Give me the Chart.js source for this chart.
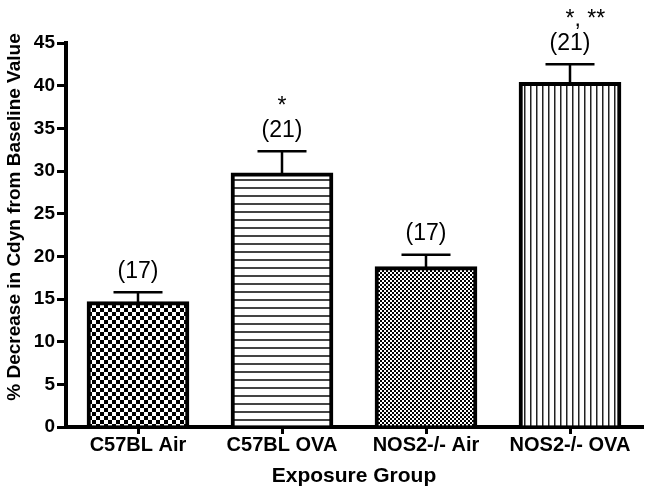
<!DOCTYPE html>
<html>
<head>
<meta charset="utf-8">
<script src="https://cdn.jsdelivr.net/npm/chart.js@4/dist/chart.umd.min.js"></script>
<style>
html,body{margin:0;padding:0;background:#fff;}
#wrap{width:649px;height:493px;}
</style>
</head>
<body>
<div id="wrap"><canvas id="c" width="649" height="493"></canvas></div>
<script>
const categories = ['C57BL Air', 'C57BL OVA', 'NOS2-/- Air', 'NOS2-/- OVA'];
const means = [14.7, 29.8, 18.8, 40.4];
const sem = [1.1, 2.5, 1.4, 2.1];
const nLabels = ['(17)', '(21)', '(17)', '(21)'];
const sigLabels = ['', '*', '', '*, **'];
const yMin = 0, yMax = 45, yStep = 5;
const xTitle = 'Exposure Group';
const yTitle = '% Decrease in Cdyn from Baseline Value';

const FONT = "'Liberation Sans', Arial, sans-serif";

function makePattern(w, h, draw) {
  const c = document.createElement('canvas');
  c.width = w; c.height = h;
  const g = c.getContext('2d');
  g.fillStyle = '#fff';
  g.fillRect(0, 0, w, h);
  draw(g);
  return document.getElementById('c').getContext('2d').createPattern(c, 'repeat');
}
const patCoarse = makePattern(8, 8, g => {
  g.fillStyle = '#000';
  g.fillRect(0, 0, 4, 4);
  g.fillRect(4, 4, 4, 4);
});
const patHoriz = makePattern(8, 8, g => {
  g.fillStyle = '#444';
  g.fillRect(0, 3, 8, 2);
});
const patFine = makePattern(4, 4, g => {
  g.fillStyle = '#000';
  g.fillRect(0, 0, 2, 2);
  g.fillRect(2, 2, 2, 2);
});
const patVert = makePattern(6, 6, g => {
  g.fillStyle = '#222';
  g.fillRect(2, 0, 1.5, 6);
});

const annot = {
  id: 'annot',
  afterDatasetsDraw(chart) {
    const ctx = chart.ctx;
    const meta = chart.getDatasetMeta(0);
    const ys = chart.scales.y;
    ctx.save();
    ctx.strokeStyle = '#000';
    ctx.lineWidth = 2.5;
    meta.data.forEach((bar, i) => {
      const x = bar.x;
      const top = ys.getPixelForValue(means[i]);
      const cap = ys.getPixelForValue(means[i] + sem[i]);
      ctx.beginPath();
      ctx.moveTo(x, top + 2);
      ctx.lineTo(x, cap);
      ctx.moveTo(x - 24.5, cap);
      ctx.lineTo(x + 24.5, cap);
      ctx.stroke();
      ctx.fillStyle = '#000';
      ctx.font = '23px ' + FONT;
      ctx.textAlign = 'center';
      ctx.textBaseline = 'middle';
      ctx.fillText(nLabels[i], x, cap - 21);
      if (sigLabels[i]) {
        ctx.font = '23px ' + FONT;
        const sw = ctx.measureText('*').width;
        ctx.textAlign = 'left';
        ctx.fillText(sigLabels[i], x - sw / 2, cap - 45);
      }
    });
    // y axis title
    ctx.save();
    ctx.translate(15, 217);
    ctx.rotate(-Math.PI / 2);
    ctx.font = 'bold 19px ' + FONT;
    ctx.textAlign = 'center';
    ctx.textBaseline = 'middle';
    ctx.fillText(yTitle, 0, 0);
    ctx.restore();
    ctx.restore();
  }
};

new Chart(document.getElementById('c'), {
  type: 'bar',
  data: {
    labels: categories,
    datasets: [{
      data: means,
      backgroundColor: [patCoarse, patHoriz, patFine, patVert],
      borderColor: '#000',
      borderWidth: 4,
      borderSkipped: 'start',
      barThickness: 102
    }]
  },
  options: {
    responsive: false,
    animation: false,
    events: [],
    layout: { padding: { top: 43, right: 7, left: 0, bottom: 0 } },
    plugins: { legend: { display: false }, tooltip: { enabled: false } },
    scales: {
      x: {
        offset: true,
        afterFit: s => { s.height = 66; },
        grid: { offset: false, drawOnChartArea: false, color: '#000', lineWidth: 3, tickLength: 7 },
        border: { display: true, color: '#000', width: 4 },
        ticks: { color: '#000', font: { family: FONT, size: 20, weight: 'bold' }, padding: -1, maxRotation: 0, autoSkip: false },
        title: { display: true, text: xTitle, color: '#000', font: { family: FONT, size: 21, weight: 'bold' }, padding: { top: 0, bottom: 4 } }
      },
      y: {
        min: yMin, max: yMax,
        afterFit: s => { s.width = 66; },
        grid: { drawOnChartArea: false, color: '#000', lineWidth: 3, tickLength: 9 },
        border: { display: true, color: '#000', width: 4 },
        ticks: { stepSize: yStep, color: '#000', font: { family: FONT, size: 19, weight: 'bold' }, padding: 2 },
        title: { display: false }
      }
    }
  },
  plugins: [annot]
});
</script>
</body>
</html>
